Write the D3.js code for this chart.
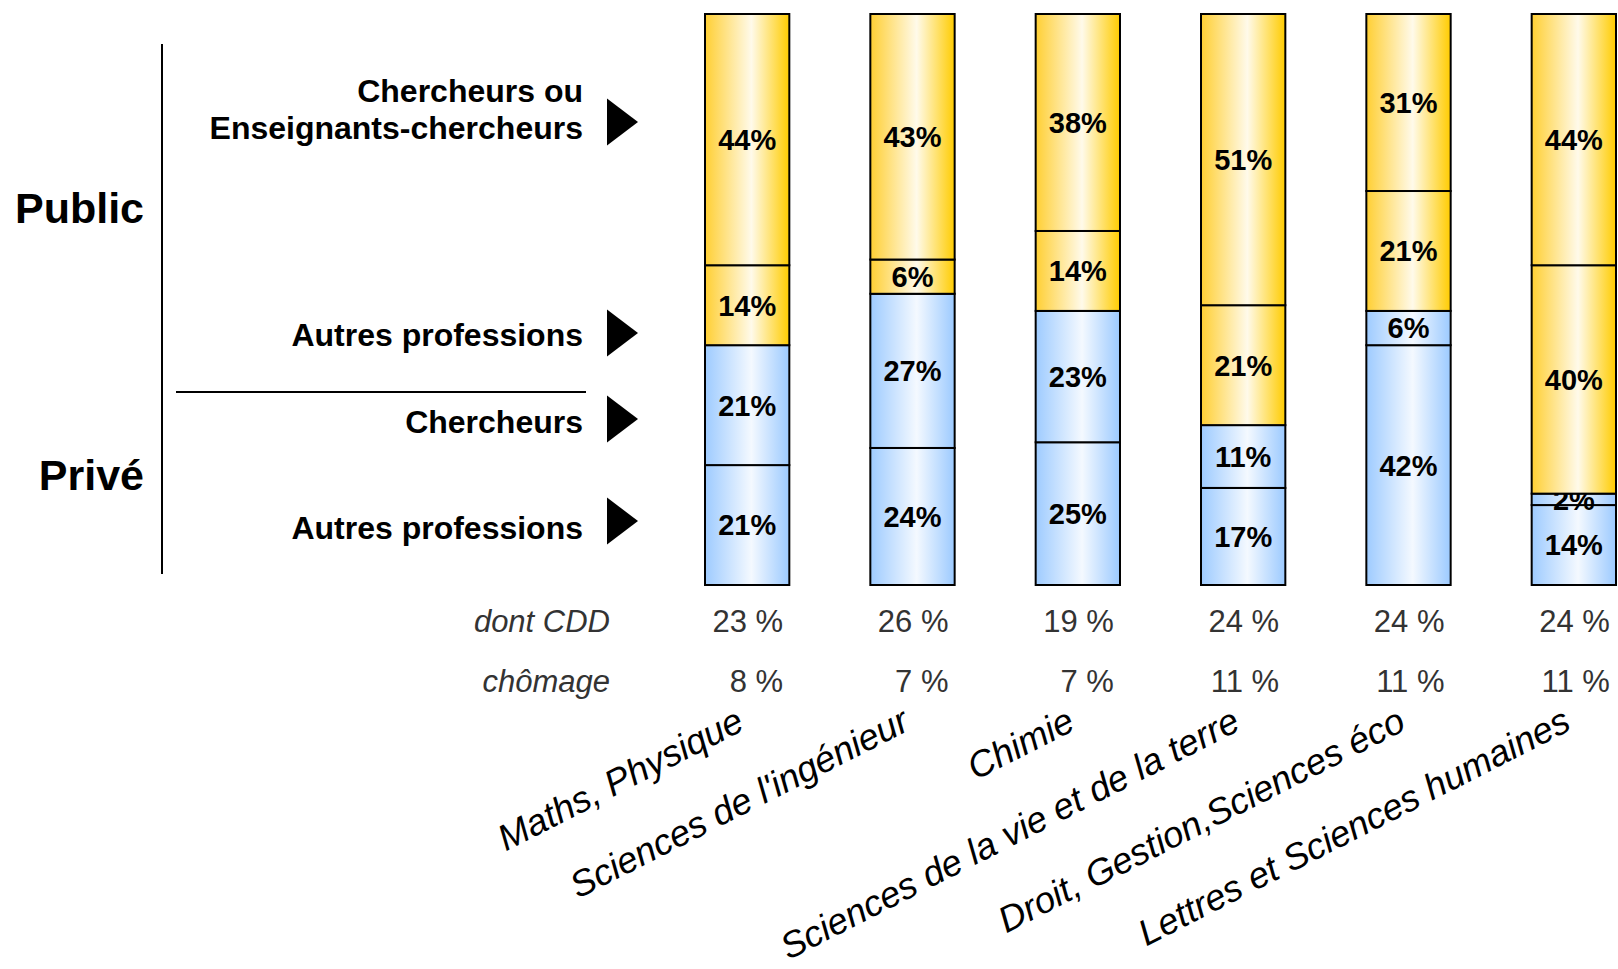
<!DOCTYPE html>
<html>
<head>
<meta charset="utf-8">
<script src="https://cdn.jsdelivr.net/npm/d3@7"></script>
<style>
  body { margin: 0; background: #fff; }
  text { font-family: 'Liberation Sans', Arial, sans-serif; }
</style>
</head>
<body>
<div id="chart"></div>
<script>
// data
const categories = [
  'Maths, Physique',
  "Sciences de l'ingénieur",
  'Chimie',
  'Sciences de la vie et de la terre',
  'Droit, Gestion,Sciences éco',
  'Lettres et Sciences humaines'
]
const priveAutres = [21, 24, 25, 17, 42, 14]
const priveChercheurs = [21, 27, 23, 11, 6, 2]
const publicAutres = [14, 6, 14, 21, 21, 40]
const publicChercheurs = [44, 43, 38, 51, 31, 44]
const cdd = ['23 %', '26 %', '19 %', '24 %', '24 %', '24 %']
const chomage = ['8 %', '7 %', '7 %', '11 %', '11 %', '11 %']
const seriesKeys = ['priveAutres', 'priveChercheurs', 'publicAutres', 'publicChercheurs']
const seriesFill = ['blue', 'blue', 'yellow', 'yellow']

const width = 1618
const height = 969

const svg = d3
  .select('#chart')
  .append('svg')
  .attr('width', width)
  .attr('height', height)

// gradients
const defs = svg.append('defs')
function gradient(id, edgeL, mid, edgeR) {
  const g = defs.append('linearGradient').attr('id', id)
    .attr('x1', 0).attr('x2', 1).attr('y1', 0).attr('y2', 0)
  g.append('stop').attr('offset', '0%').attr('stop-color', edgeL)
  g.append('stop').attr('offset', '55%').attr('stop-color', mid)
  g.append('stop').attr('offset', '100%').attr('stop-color', edgeR)
}
gradient('yellow', '#ffcf33', '#fffaea', '#ffcc00')
gradient('blue', '#9ecbff', '#f4f9ff', '#9ccaff')

const rows = categories.map((c, i) => ({
  cat: c,
  priveAutres: priveAutres[i],
  priveChercheurs: priveChercheurs[i],
  publicAutres: publicAutres[i],
  publicChercheurs: publicChercheurs[i]
}))
const stacked = d3.stack().keys(seriesKeys)(rows)

const xPositionScale = d3.scaleBand()
  .domain(categories)
  .range([705, 1616])
  .paddingInner(0.49)
  .paddingOuter(0)
const yPositionScale = d3.scaleLinear().domain([0, 100]).range([585, 14])
const center = c => xPositionScale(c) + xPositionScale.bandwidth() / 2

const layers = svg.selectAll('.layer')
  .data(stacked)
  .enter()
  .append('g')
  .attr('class', 'layer')
  .attr('fill', (d, i) => `url(#${seriesFill[i]})`)

layers.selectAll('rect')
  .data(d => d)
  .enter()
  .append('rect')
  .attr('x', d => xPositionScale(d.data.cat))
  .attr('y', d => yPositionScale(d[1]))
  .attr('width', xPositionScale.bandwidth())
  .attr('height', d => yPositionScale(d[0]) - yPositionScale(d[1]))
  .attr('stroke', '#000')
  .attr('stroke-width', 2)

// percentage labels
layers.selectAll('text')
  .data(d => d)
  .enter()
  .append('text')
  .text(d => (d[1] - d[0]) + '%')
  .attr('x', d => center(d.data.cat))
  .attr('y', d => yPositionScale((d[0] + d[1]) / 2))
  .attr('dy', '0.36em')
  .attr('text-anchor', 'middle')
  .attr('font-size', 29)
  .attr('font-weight', 'bold')
  .attr('fill', '#000')

// rows under the bars
const rowY = [632, 692]
const rowLabels = ['dont CDD', 'chômage']
;[cdd, chomage].forEach((vals, r) => {
  svg.append('text')
    .text(rowLabels[r])
    .attr('x', 610)
    .attr('y', rowY[r])
    .attr('text-anchor', 'end')
    .attr('font-size', 31)
    .attr('font-style', 'italic')
    .attr('fill', '#333')
  svg.selectAll('.row' + r)
    .data(vals)
    .enter()
    .append('text')
    .attr('class', 'row' + r)
    .text(d => d)
    .attr('x', (d, i) => center(categories[i]) + 36)
    .attr('y', rowY[r])
    .attr('text-anchor', 'end')
    .attr('font-size', 31)
    .attr('fill', '#333')
})

// category labels, slanted
svg.selectAll('.cat')
  .data(categories)
  .enter()
  .append('text')
  .attr('class', 'cat')
  .text(d => d)
  .attr('transform', d => `translate(${center(d) - 1},729) rotate(-27)`)
  .attr('text-anchor', 'end')
  .attr('font-size', 36.5)
  .attr('font-style', 'italic')
  .attr('fill', '#000')

// left legend
svg.append('line')
  .attr('x1', 162).attr('x2', 162).attr('y1', 44).attr('y2', 574)
  .attr('stroke', '#000').attr('stroke-width', 2)
svg.append('line')
  .attr('x1', 176).attr('x2', 586).attr('y1', 392).attr('y2', 392)
  .attr('stroke', '#000').attr('stroke-width', 2)

svg.append('text').text('Public')
  .attr('x', 144).attr('y', 223).attr('text-anchor', 'end')
  .attr('font-size', 43).attr('font-weight', 'bold')
svg.append('text').text('Privé')
  .attr('x', 144).attr('y', 490).attr('text-anchor', 'end')
  .attr('font-size', 43).attr('font-weight', 'bold')

const legendItems = [
  { lines: ['Chercheurs ou', 'Enseignants-chercheurs'], y: 122, textY: 102 },
  { lines: ['Autres professions'], y: 333, textY: 346 },
  { lines: ['Chercheurs'], y: 419, textY: 433 },
  { lines: ['Autres professions'], y: 521, textY: 539 }
]
legendItems.forEach(item => {
  item.lines.forEach((ln, k) => {
    svg.append('text').text(ln)
      .attr('x', 583)
      .attr('y', item.textY + k * 37)
      .attr('text-anchor', 'end')
      .attr('font-size', 32)
      .attr('font-weight', 'bold')
  })
  svg.append('path')
    .attr('d', `M607,${item.y - 23.5}L638,${item.y}L607,${item.y + 23.5}Z`)
    .attr('fill', '#000')
})
</script>
</body>
</html>
